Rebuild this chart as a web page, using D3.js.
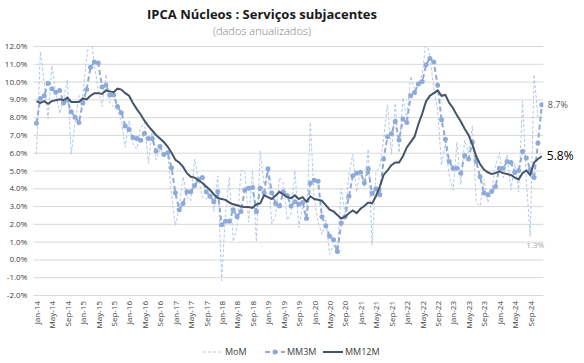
<!DOCTYPE html>
<html>
<head>
<meta charset="utf-8">
<script src="https://cdn.jsdelivr.net/npm/d3@7"></script>
<style>
body { margin: 0; background: #fff; }
text { font-family: "Open Sans", "DejaVu Sans", sans-serif; }
</style>
</head>
<body>
<svg id="chart" width="584" height="363"></svg>
<script>
var monthNames = ["Jan","Feb","Mar","Apr","May","Jun","Jul","Aug","Sep","Oct","Nov","Dec"];
var years = ["14","15","16","17","18","19","20","21","22","23","24"];

var tickLabels = ["Jan-14","May-14","Sep-14","Jan-15","May-15","Sep-15","Jan-16","May-16","Sep-16",
  "Jan-17","May-17","Sep-17","Jan-18","May-18","Sep-18","Jan-19","May-19","Sep-19","Jan-20","May-20",
  "Sep-20","Jan-21","May-21","Sep-21","Jan-22","May-22","Sep-22","Jan-23","May-23","Sep-23","Jan-24",
  "May-24","Sep-24"];

var yTicks = [-2,-1,0,1,2,3,4,5,6,7,8,9,10,11,12];

// IPCA serviços subjacentes, % annualised
var mom = [5.9, 11.7, 9.9, 7.9, 10.9, 9.4, 8.2, 9.0, 10.1, 5.9, 7.7, 9.2,
  9.2, 11.3, 12.8, 10.9, 9.6, 8.6, 10.4, 8.8, 8.6, 8.4, 7.8, 6.3,
  7.8, 6.5, 6.2, 7.4, 7.7, 5.4, 7.3, 5.6, 6.2, 5.9, 5.9, 3.6,
  1.9, 2.9, 4.65, 3.5, 3.3, 5.65, 4.5, 3.5, 3.4, 3.7, 2.7, 4.7,
  -1.2, 2.6, 4.6, 1.0, 1.8, 5.0, 5.0, 2.1, 5.0, 1.0, 6.1, 4.2,
  5.0, 2.0, 2.5, 4.6, 4.3, 2.2, 2.6, 5.0, 1.8, 2.9, 2.3, 7.7,
  3.4, 2.1, 1.4, 2.2, 0.3, 0.8, 0.3, 4.0, 2.6, 4.8, 5.9, 3.8,
  5.0, 4.1, 6.2, 0.8, 4.9, 5.2, 6.8, 8.7, 5.9, 8.8, 6.0, 9.1,
  7.9, 10.3, 9.6, 9.8, 10.4, 12.3, 11.4, 9.6, 8.4, 5.3, 6.5, 4.7,
  3.9, 6.6, 4.2, 6.7, 6.0, 7.5, 3.2, 3.0, 4.5, 3.2, 3.8, 5.3,
  6.0, 4.6, 5.9, 3.9, 5.4, 3.8, 8.9, 4.4, 1.3, 10.4, 8.0, 8.1];

var mm3m = [7.66, 9.05, 9.2, 9.9, 9.6, 9.4, 9.5, 8.8, 8.95, 8.3, 8.0, 7.7,
  8.8, 9.55, 10.8, 11.1, 11.05, 9.7, 9.8, 9.25, 9.25, 8.6, 8.25, 7.5,
  7.3, 6.85, 6.8, 6.7, 7.1, 6.8, 6.8, 6.1, 6.35, 5.9, 6.0, 5.15,
  3.75, 2.8, 3.15, 3.8, 3.8, 4.15, 4.5, 4.6, 3.8, 3.55, 3.25, 3.8,
  1.95, 2.15, 2.15, 2.8, 2.4, 2.7, 3.9, 4.0, 4.05, 2.7, 4.0, 3.75,
  5.1, 3.75, 3.15, 3.0, 3.8, 3.6, 3.0, 3.25, 3.1, 3.2, 2.3, 4.3,
  4.45, 4.4, 2.4, 1.9, 1.3, 1.1, 0.45, 2.05, 2.4, 3.55, 4.7, 4.85,
  4.9, 4.3, 5.1, 3.7, 3.97, 3.63, 5.64, 6.9, 7.06, 7.75, 6.72, 7.89,
  7.7, 9.2, 9.38, 9.87, 10.0, 10.94, 11.3, 11.1, 9.8, 7.85, 6.76, 5.5,
  5.13, 5.13, 4.85, 5.85, 5.65, 6.6, 5.5, 4.65, 3.73, 3.63, 3.82, 4.1,
  5.13, 5.13, 5.5, 5.45, 4.89, 5.0, 6.07, 5.7, 5.04, 4.6, 6.54, 8.69];

var mm12m = [8.9, 8.8, 8.9, 8.75, 8.9, 8.95, 9.0, 8.95, 9.1, 8.85, 8.85, 8.85,
  9.05, 9.0, 9.2, 9.35, 9.35, 9.3, 9.5, 9.45, 9.4, 9.6, 9.55, 9.35,
  9.2, 8.8, 8.45, 8.15, 7.8, 7.5, 7.25, 7.0, 6.8, 6.6, 6.35, 6.0,
  5.6, 5.45, 5.2, 4.85, 4.65, 4.6, 4.45, 4.3, 4.1, 3.9, 3.65, 3.45,
  3.4, 3.35, 3.2, 3.1, 3.05, 2.98, 2.95, 2.95, 2.9, 3.1, 3.15, 3.6,
  3.5, 3.4, 3.6, 3.8, 3.65, 3.5, 3.45, 3.6, 3.4, 3.5, 3.25, 3.55,
  3.4, 3.35, 3.3, 3.05, 2.8, 2.7, 2.5, 2.3, 2.4, 2.6, 2.75, 2.6,
  2.85, 3.0, 3.2, 3.15, 3.55, 4.1, 4.75, 5.0, 5.3, 5.45, 5.45, 5.8,
  6.3, 6.6, 6.9, 7.6, 8.2, 8.9, 9.2, 9.35, 9.5, 9.2, 9.25, 8.8,
  8.5, 8.1, 7.75, 7.35, 7.0, 6.45, 5.8, 5.35, 5.05, 4.9, 4.8, 4.85,
  4.95, 4.85, 4.8, 4.75, 4.6, 4.5, 4.85, 5.0, 4.75, 5.45, 5.65, 5.8];

var seriesNames = ["MoM", "MM3M", "MM12M"];

var categories = [];
years.forEach(function(yr) {
  monthNames.forEach(function(m) { categories.push(m + "-" + yr); });
});

var svg = d3.select("#chart");
var plotL = 33.3, plotR = 543.3, plotT = 46, plotB = 295;

var x = d3.scalePoint().domain(categories).range([36.5, 541.8]);
var y = d3.scaleLinear().domain([-2, 12]).range([plotB, plotT]);

svg.append("defs").append("clipPath")
    .attr("id", "plot")
  .append("rect")
    .attr("x", plotL).attr("y", plotT)
    .attr("width", plotR - plotL).attr("height", plotB - plotT);

// title
svg.append("text")
    .attr("x", 262).attr("y", 19)
    .attr("text-anchor", "middle")
    .attr("font-size", "13px")
    .attr("font-weight", "bold")
    .attr("fill", "#1a1a1a")
    .text("IPCA Núcleos : Serviços subjacentes");

svg.append("text")
    .attr("x", 262).attr("y", 35)
    .attr("text-anchor", "middle")
    .attr("font-size", "11px")
    .attr("font-weight", "300")
    .attr("fill", "#808080")
    .text("(dados anualizados)");

// y axis + gridlines
var yAxis = svg.append("g")
    .attr("transform", "translate(" + plotL + ",0)")
    .call(d3.axisLeft(y)
        .tickValues(yTicks)
        .tickSize(-(plotR - plotL))
        .tickPadding(6)
        .tickFormat(function(d) { return d.toFixed(1) + "%"; }));
yAxis.select(".domain").remove();
yAxis.selectAll(".tick line").attr("stroke", "#d9d9d9").attr("stroke-width", 1);
yAxis.selectAll(".tick text")
    .attr("font-size", "8px")
    .attr("fill", "#404040")
    .style("font-family", "\"Open Sans\", sans-serif");

// x axis labels
var xAxis = svg.append("g")
    .attr("transform", "translate(0," + plotB + ")")
    .call(d3.axisBottom(x).tickValues(tickLabels).tickSize(0));
xAxis.select(".domain").remove();
xAxis.selectAll(".tick text")
    .attr("transform", "rotate(-90)")
    .attr("x", -6)
    .attr("y", 0)
    .attr("dy", "0.35em")
    .attr("text-anchor", "end")
    .attr("font-size", "8px")
    .attr("fill", "#404040")
    .style("font-family", "\"Open Sans\", sans-serif");

var line = d3.line()
    .x(function(d, i) { return x(categories[i]); })
    .y(function(d) { return y(d); });

var plot = svg.append("g").attr("clip-path", "url(#plot)");

plot.append("path")
    .datum(mom)
    .attr("d", line)
    .attr("fill", "none")
    .attr("stroke", "#b4c7e7")
    .attr("stroke-width", 1)
    .attr("stroke-dasharray", "3,2");

plot.append("path")
    .datum(mm3m)
    .attr("d", line)
    .attr("fill", "none")
    .attr("stroke", "#8eaadb")
    .attr("stroke-width", 2)
    .attr("stroke-dasharray", "5,3");

plot.selectAll(".mk")
    .data(mm3m)
  .enter().append("circle")
    .attr("class", "mk")
    .attr("cx", function(d, i) { return x(categories[i]); })
    .attr("cy", function(d) { return y(d); })
    .attr("r", 2.5)
    .attr("fill", "#8eaadb");

plot.append("path")
    .datum(mm12m)
    .attr("d", line)
    .attr("fill", "none")
    .attr("stroke", "#44546a")
    .attr("stroke-width", 2);

// end labels
var last = categories.length - 1;
svg.append("text")
    .attr("x", x(categories[last]) + 6)
    .attr("y", y(mm3m[last]))
    .attr("dy", "0.35em")
    .attr("font-size", "9px")
    .attr("fill", "#595959")
    .text(mm3m[last].toFixed(1) + "%");

svg.append("text")
    .attr("x", x(categories[last]) + 5)
    .attr("y", y(mm12m[last]))
    .attr("dy", "0.35em")
    .attr("font-size", "12px")
    .attr("fill", "#000")
    .text(mm12m[last].toFixed(1) + "%");

var low = 128;
svg.append("text")
    .attr("x", x(categories[low]) + 5)
    .attr("y", y(mom[low]) + 9)
    .attr("dy", "0.35em")
    .attr("text-anchor", "middle")
    .attr("font-size", "8px")
    .attr("fill", "#a6a6a6")
    .text(mom[low].toFixed(1) + "%");

// legend
var legendX = [203, 265, 323];
var legend = svg.append("g").attr("transform", "translate(0,352)");
seriesNames.forEach(function(name, k) {
  var g = legend.append("g").attr("transform", "translate(" + legendX[k] + ",0)");
  var ln = g.append("line")
      .attr("x1", 0).attr("x2", 20)
      .attr("y1", 0).attr("y2", 0);
  if (k == 0) ln.attr("stroke", "#b4c7e7").attr("stroke-width", 1).attr("stroke-dasharray", "3,2");
  if (k == 1) {
    ln.attr("stroke", "#8eaadb").attr("stroke-width", 2).attr("stroke-dasharray", "5,3");
    g.append("circle").attr("cx", 10).attr("cy", 0).attr("r", 2.5).attr("fill", "#8eaadb");
  }
  if (k == 2) ln.attr("stroke", "#44546a").attr("stroke-width", 2);
  g.append("text")
      .attr("x", 22).attr("y", 0)
      .attr("dy", "0.35em")
      .attr("font-size", "9px")
      .attr("fill", "#404040")
      .text(name);
});
</script>
</body>
</html>
